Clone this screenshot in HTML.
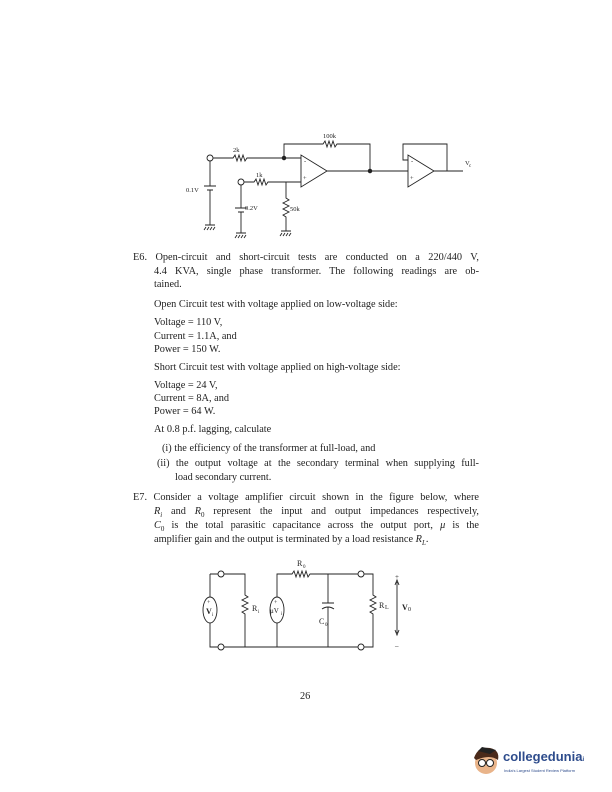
<!DOCTYPE html>
<html><head><meta charset="utf-8"><style>
body{margin:0;background:#fff}
#p{position:relative;width:612px;height:792px;overflow:hidden;font-family:"Liberation Serif",serif;font-size:10.3px;color:#222}
.t{position:absolute;white-space:nowrap;line-height:12px}
.j{text-align:justify;text-align-last:justify;white-space:normal}
svg text{font-family:"Liberation Serif",serif}
</style></head><body><div id="p">
<svg width="612" height="792" style="position:absolute;left:0;top:0" fill="none" stroke="#222" stroke-width="0.9">
<circle cx="210" cy="158" r="3"/>
<path d="M213 158H233l2-3 2 6 2-6 2 6 2-6 2 6 2-3H301"/>
<circle cx="284" cy="158" r="1.8" fill="#222"/>
<path d="M284 158V144H323l2-3 2 6 2-6 2 6 2-6 2 6 2-3H370V170"/>
<path d="M301 155L301 187L327 171Z"/>
<path d="M327 171H408"/><circle cx="370" cy="171" r="1.8" fill="#222"/>
<path d="M408 155L408 187L434 171Z"/>
<path d="M408 160H403V144H447V171M434 171H463"/>
<path d="M210 161V186M204 186H216M207 190H213M210 190V225M205 225H215"/>
<path d="M206 227l-2 3M209 227l-2 3M212 227l-2 3M215 227l-2 3"/>
<circle cx="241" cy="182" r="3"/>
<path d="M244 182H254l2-3 2 6 2-6 2 6 2-6 2 6 2-3H301"/>
<path d="M241 185V208M235 208H247M238 212H244M241 212V233M236 233H246"/>
<path d="M237 235l-2 3M240 235l-2 3M243 235l-2 3M246 235l-2 3"/>
<path d="M286 182V198l3 2-6 3 6 3-6 3 6 3-6 3 3 2V231M281 231H291"/>
<path d="M282 233l-2 3M285 233l-2 3M288 233l-2 3M291 233l-2 3"/>
<g stroke="none" fill="#222" font-size="6.5">
<text x="233" y="152">2k</text><text x="256" y="177">1k</text><text x="323" y="138">100k</text>
<text x="186" y="192">0.1V</text><text x="245" y="210">0.2V</text><text x="290" y="211">50k</text>
<text x="465" y="165">V</text><text x="469" y="167" font-size="5">c</text>
<text x="304" y="163">-</text><text x="303" y="180">+</text><text x="411" y="163">-</text><text x="410" y="180">+</text>
</g>
<path d="M210 574H218M224 574H245V595l3 2-6 3 6 3-6 3 6 3-6 3 3 2V647H224M218 647H210V574"/>
<circle cx="221" cy="574" r="3"/><circle cx="221" cy="647" r="3"/>
<ellipse cx="210" cy="610" rx="7" ry="13" fill="#fff"/>
<path d="M277 647V574H292l2-3 2 6 2-6 2 6 2-6 2 6 2-6 2 6 2-3H358M364 574H373V595l3 2-6 3 6 3-6 3 6 3-6 3 3 2V647H364M358 647H245"/>
<circle cx="361" cy="574" r="3"/><circle cx="361" cy="647" r="3"/>
<ellipse cx="277" cy="610" rx="7" ry="13" fill="#fff"/>
<path d="M328 574V603M322 603H334M322 609Q328 605 334 609M328 607V647"/>
<path d="M397 582V633M395 585L397 580 399 585M395 630L397 635 399 630" />
<g stroke="none" fill="#222" font-size="8">
<text x="207" y="604" font-size="6">+</text><text x="206" y="614" font-weight="bold">V</text><text x="212" y="616" font-size="5">i</text>
<text x="274" y="604" font-size="6">+</text><text x="270" y="613" font-size="7">μV</text><text x="281" y="615" font-size="5">i</text>
<text x="252" y="611">R</text><text x="258" y="613" font-size="5">i</text>
<text x="297" y="566">R</text><text x="303" y="568" font-size="5">0</text>
<text x="319" y="624">C</text><text x="325" y="626" font-size="5">0</text>
<text x="379" y="608">R</text><text x="385" y="609" font-size="6">L</text>
<text x="402" y="610" font-weight="bold">V</text><text x="408" y="611" font-size="6">0</text>
<text x="395" y="579" font-size="7">+</text><text x="395" y="648" font-size="7">–</text>
</g>
</svg>
<div class="t j" style="left:133px;top:252px;width:346px">E6. Open-circuit and short-circuit tests are conducted on a 220/440 V,</div>
<div class="t j" style="left:154px;top:266px;width:325px">4.4 KVA, single phase transformer. The following readings are ob-</div>
<div class="t" style="left:154px;top:279px">tained.</div>
<div class="t" style="left:154px;top:299px">Open Circuit test with voltage applied on low-voltage side:</div>
<div class="t" style="left:154px;top:317px">Voltage = 110 V,</div>
<div class="t" style="left:154px;top:331px">Current = 1.1A, and</div>
<div class="t" style="left:154px;top:344px">Power = 150 W.</div>
<div class="t" style="left:154px;top:362px">Short Circuit test with voltage applied on high-voltage side:</div>
<div class="t" style="left:154px;top:380px">Voltage = 24 V,</div>
<div class="t" style="left:154px;top:393px">Current = 8A, and</div>
<div class="t" style="left:154px;top:406px">Power = 64 W.</div>
<div class="t" style="left:154px;top:424px">At 0.8 p.f. lagging, calculate</div>
<div class="t" style="left:162px;top:443px">(i) the efficiency of the transformer at full-load, and</div>
<div class="t j" style="left:157px;top:458px;width:322px">(ii) the output voltage at the secondary terminal when supplying full-</div>
<div class="t" style="left:175px;top:472px">load secondary current.</div>
<div class="t j" style="left:133px;top:492px;width:346px">E7. Consider a voltage amplifier circuit shown in the figure below, where</div>
<div class="t j" style="left:154px;top:506px;width:325px"><i>R<sub style="font-size:7px">i</sub></i> and <i>R</i><sub style="font-size:7px">0</sub> represent the input and output impedances respectively,</div>
<div class="t j" style="left:154px;top:520px;width:325px"><i>C</i><sub style="font-size:7px">0</sub> is the total parasitic capacitance across the output port, <i>μ</i> is the</div>
<div class="t" style="left:154px;top:534px">amplifier gain and the output is terminated by a load resistance <i>R<sub style="font-size:7px">L</sub></i>.</div>
<div class="t" style="left:300px;top:691px">26</div>
<svg width="40" height="34" style="position:absolute;left:468px;top:744px">
<circle cx="18" cy="19" r="11" fill="#e9b48a"/><path d="M6 14Q10 2 22 4 32 6 30 16 22 10 8 16Z" fill="#4a2a1a"/>
<path d="M14 3L28 6 22 10 10 7Z" fill="#222"/><circle cx="14" cy="19" r="3.5" fill="#fff" stroke="#222"/><circle cx="22" cy="19" r="3.5" fill="#fff" stroke="#222"/>
</svg>
<div class="t" style="left:503px;top:751px;font-family:'Liberation Sans',sans-serif;font-weight:bold;font-size:13px;color:#2e4c8c">collegedunia<span style="font-size:6px">i</span></div>
<div class="t" style="left:504px;top:765px;font-family:'Liberation Sans',sans-serif;font-size:4px;color:#2e4c8c">India's Largest Student Review Platform</div>
</div></body></html>
